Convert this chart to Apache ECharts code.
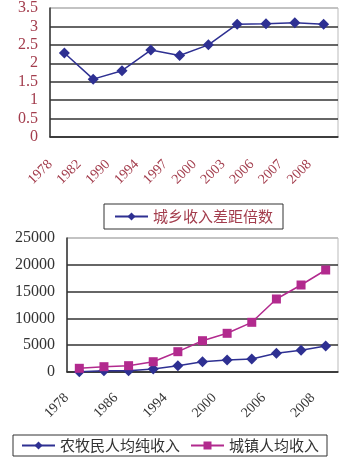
<!DOCTYPE html>
<html><head><meta charset="utf-8">
<script src="https://cdn.jsdelivr.net/npm/echarts@6/dist/echarts.min.js"></script>
<style>html,body{margin:0;padding:0;background:#fff}#c{width:357px;height:471px}</style>
</head><body><div id="c"></div>
<script>
var ratioYears = ['1978','1982','1990','1994','1997','2000','2003','2006','2007','2008'];
var ratioValues = [2.28, 1.57, 1.80, 2.36, 2.21, 2.50, 3.06, 3.07, 3.10, 3.06];
var ratioTicks = ['0','0.5','1','1.5','2','2.5','3','3.5'];

var incomeYears = ['1978','1982','1986','1990','1994','1997','2000','2003','2006','2007','2008'];
var ruralIncome = [50, 250, 250, 560, 1180, 1920, 2240, 2430, 3490, 4050, 4850];
var urbanIncome = [690, 990, 1180, 1920, 3790, 5840, 7220, 9270, 13620, 16230, 19030];
var incomeTicks = ['0','5000','10000','15000','20000','25000'];

var navy = '#2e3092', magenta = '#b22a8e', brown = '#a33d4d', dark = '#333';
var serif = 'Liberation Serif', cjk = 'Noto Sans CJK SC';

var chart = echarts.init(document.getElementById('c'));
chart.setOption({
  animation: false,
  grid: [
    {left: 50, top: 7, width: 288, height: 130, show: true, borderColor: '#bbb', borderWidth: 1, containLabel: false},
    {left: 67, top: 238, width: 271, height: 134, show: true, borderColor: '#bbb', borderWidth: 1, containLabel: false}
  ],
  legend: [
    {data: ['城乡收入差距倍数'], left: 104, top: 204, itemWidth: 33, itemHeight: 10, itemGap: 10,
     padding: [5, 10, 5, 10], borderColor: dark, borderWidth: 1, borderRadius: 0,
     textStyle: {fontFamily: cjk, fontSize: 15, color: brown}},
    {data: ['农牧民人均纯收入', '城镇人均收入'], left: 13, top: 435, itemWidth: 33, itemHeight: 10, itemGap: 10,
     padding: [3, 8, 3, 8], borderColor: dark, borderWidth: 1, borderRadius: 0,
     textStyle: {fontFamily: cjk, fontSize: 15, color: dark}}
  ],
  xAxis: [
    {type: 'category', gridIndex: 0, data: ratioYears, boundaryGap: true,
     axisLine: {lineStyle: {color: dark, width: 1.5}},
     axisTick: {inside: true, length: 5, lineStyle: {color: dark, width: 1.5}},
     axisLabel: {interval: 0, rotate: 45, margin: 11, padding: [0, 20, 0, 0], fontFamily: serif, fontSize: 14, color: brown},
     splitLine: {show: false}},
    {type: 'category', gridIndex: 1, data: incomeYears, boundaryGap: true,
     axisLine: {lineStyle: {color: dark, width: 1.5}},
     axisTick: {inside: true, length: 5, interval: 0, lineStyle: {color: dark, width: 1.5}},
     axisLabel: {interval: 1, rotate: 45, margin: 11, padding: [0, 18, 0, 0], fontFamily: serif, fontSize: 14, color: dark},
     splitLine: {show: false}}
  ],
  yAxis: [
    {type: 'value', gridIndex: 0, min: 0, max: 3.5, interval: 0.5,
     axisLine: {show: true, lineStyle: {color: dark, width: 1.5}},
     axisTick: {show: false},
     axisLabel: {margin: 12, fontFamily: serif, fontSize: 16, color: brown,
       formatter: function (v) { return ratioTicks[Math.round(v / 0.5)]; }},
     splitLine: {lineStyle: {color: [dark, dark, dark, dark, dark, dark, dark, '#bbb'], width: 1.5}}},
    {type: 'value', gridIndex: 1, min: 0, max: 25000, interval: 5000,
     axisLine: {show: true, lineStyle: {color: dark, width: 1.5}},
     axisTick: {show: false},
     axisLabel: {margin: 12, fontFamily: serif, fontSize: 16, color: dark,
       formatter: function (v) { return incomeTicks[Math.round(v / 5000)]; }},
     splitLine: {lineStyle: {color: [dark, dark, dark, dark, dark, '#bbb'], width: 1.5}}}
  ],
  series: [
    {name: '城乡收入差距倍数', type: 'line', xAxisIndex: 0, yAxisIndex: 0, data: ratioValues,
     symbol: 'diamond', symbolSize: 11, lineStyle: {color: navy, width: 1.5}, itemStyle: {color: navy}},
    {name: '农牧民人均纯收入', type: 'line', xAxisIndex: 1, yAxisIndex: 1, data: ruralIncome,
     symbol: 'diamond', symbolSize: 11, lineStyle: {color: navy, width: 1.5}, itemStyle: {color: navy}},
    {name: '城镇人均收入', type: 'line', xAxisIndex: 1, yAxisIndex: 1, data: urbanIncome,
     symbol: 'rect', symbolSize: 9, lineStyle: {color: magenta, width: 1.5}, itemStyle: {color: magenta}}
  ]
});
</script></body></html>
